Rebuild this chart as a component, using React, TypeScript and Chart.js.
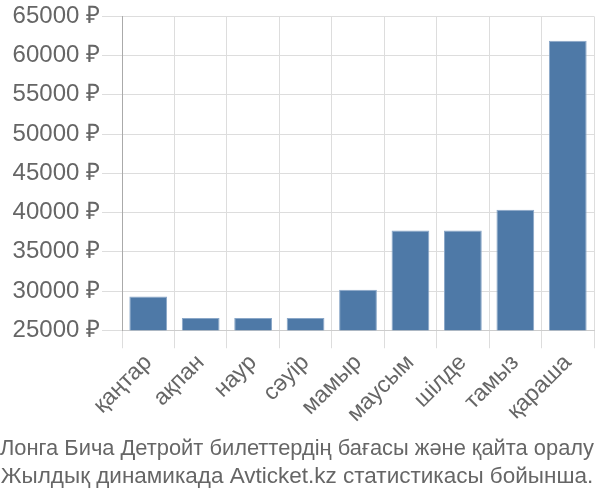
import React, { useEffect, useRef } from "react";
import { Chart, registerables } from "chart.js";

Chart.register(...registerables);

const categories = ["қаңтар", "ақпан", "наур", "сәуір", "мамыр", "маусым", "шілде", "тамыз", "қараша"];
const prices = [29300, 26550, 26550, 26550, 30150, 37700, 37700, 40350, 61900];
const titleLines = [
  "Лонга Бича Детройт билеттердің бағасы және қайта оралу",
  "Жылдық динамикада Avticket.kz статистикасы бойынша.",
];

export default function App() {
  const ref = useRef<HTMLCanvasElement | null>(null);
  useEffect(() => {
    if (!ref.current) return;
    const chart = new Chart(ref.current, {
      type: "bar",
      data: {
        labels: categories,
        datasets: [
          {
            data: prices,
            backgroundColor: "#4e79a7",
            borderColor: "#8aa7c8",
            borderWidth: 1,
          },
        ],
      },
      options: {
        responsive: false,
        animation: false,
        layout: { padding: { top: 4, right: 6, left: 0, bottom: 0 } },
        plugins: {
          legend: { display: false },
          tooltip: { enabled: false },
          title: {
            display: true,
            position: "bottom",
            text: titleLines,
            color: "#666",
            font: { family: "Liberation Sans", size: 22.5, weight: "normal", lineHeight: 1.25 },
            padding: { top: 6, bottom: 9 },
          },
        },
        scales: {
          x: {
            grid: { color: "#dddddd", tickLength: 18, offset: true },
            border: { color: "#cccccc" },
            ticks: {
              color: "#666",
              font: { family: "Liberation Sans", size: 23 },
              maxRotation: 45,
              minRotation: 45,
              padding: 1,
            },
          },
          y: {
            min: 25000,
            max: 65000,
            afterFit: (s: any) => {
              s.width = 122;
            },
            grid: { color: "#dddddd", tickLength: 20 },
            border: { color: "#aaaaaa" },
            ticks: {
              stepSize: 5000,
              color: "#666",
              font: { family: "Liberation Sans", size: 24 },
              padding: 2,
              callback: (v: any) => v + " ₽",
            },
          },
        },
      },
    });
    return () => chart.destroy();
  }, []);
  return (
    <div style={{ position: "fixed", left: 0, top: 0, width: 600, height: 500, background: "#fff" }}>
      <canvas ref={ref} width={600} height={500} />
    </div>
  );
}
